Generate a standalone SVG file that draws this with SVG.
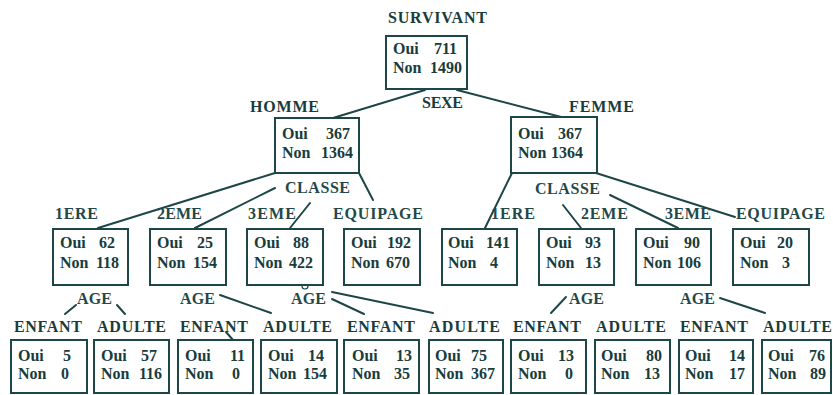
<svg xmlns="http://www.w3.org/2000/svg" width="833" height="395" viewBox="0 0 833 395">
  <style>
    .box { fill: #ffffff; stroke: #1d4646; stroke-width: 2; }
    .edge { stroke: #1d4646; stroke-width: 2; fill: none; stroke-linecap: round; }
    .val { font-family: "Liberation Serif", "Times New Roman", serif; font-size: 16px; font-weight: bold; fill: #183c3c; }
    .num { text-anchor: end; }
    .lbl { font-family: "Liberation Serif", "Times New Roman", serif; font-size: 16px; font-weight: bold; fill: #183c3c; }
    .lbl-n { font-family: "Liberation Serif", "Times New Roman", serif; font-size: 16px; font-weight: bold; fill: #234848; }
  </style>
  <rect width="833" height="395" fill="#ffffff"/>

  <!-- connectors -->
  <g id="connectors">
    <line class="edge" x1="425" y1="90" x2="333" y2="118"/>
    <line class="edge" x1="457" y1="90" x2="565" y2="118"/>
    <line class="edge" x1="275" y1="173" x2="98" y2="228"/>
    <line class="edge" x1="275" y1="188" x2="195" y2="228"/>
    <line class="edge" x1="310" y1="203" x2="290" y2="228"/>
    <line class="edge" x1="359" y1="173" x2="373" y2="200"/>
    <line class="edge" x1="512" y1="173" x2="485" y2="228"/>
    <line class="edge" x1="563" y1="205" x2="581" y2="228"/>
    <line class="edge" x1="610" y1="195" x2="678" y2="228"/>
    <line class="edge" x1="596" y1="173" x2="735" y2="217"/>
    <line class="edge" x1="76" y1="305" x2="65" y2="314"/>
    <line class="edge" x1="117" y1="305" x2="125" y2="314"/>
    <line class="edge" x1="220" y1="295" x2="271" y2="313"/>
    <line class="edge" x1="226" y1="332" x2="233" y2="340"/>
    <line class="edge" x1="332" y1="292" x2="433" y2="313"/>
    <line class="edge" x1="332" y1="299" x2="364" y2="314"/>
    <line class="edge" x1="566" y1="297" x2="551" y2="313"/>
    <line class="edge" x1="720" y1="298" x2="765" y2="313"/>
    <circle cx="305" cy="286" r="3" fill="#ffffff" stroke="#1d4646" stroke-width="1.2"/>
  </g>

  <!-- branch labels -->
  <g id="labels">
    <text class="lbl" x="388" y="23" textLength="99">SURVIVANT</text>
    <text class="lbl" x="250" y="112" textLength="69">HOMME</text>
    <text class="lbl" x="422" y="108" textLength="41">SEXE</text>
    <text class="lbl" x="569" y="112" textLength="65">FEMME</text>
    <text class="lbl-n" x="285" y="193" textLength="65">CLASSE</text>
    <text class="lbl-n" x="535" y="194" textLength="65">CLASSE</text>
    <text class="lbl-n" x="55" y="219" textLength="43">1ERE</text>
    <text class="lbl-n" x="157" y="219" textLength="45">2EME</text>
    <text class="lbl-n" x="248" y="219" textLength="48">3EME</text>
    <text class="lbl-n" x="333" y="219" textLength="90">EQUIPAGE</text>
    <text class="lbl-n" x="491" y="219" textLength="44">1ERE</text>
    <text class="lbl-n" x="581" y="219" textLength="47">2EME</text>
    <text class="lbl-n" x="665" y="219" textLength="46">3EME</text>
    <text class="lbl-n" x="736" y="219" textLength="89">EQUIPAGE</text>
    <text class="lbl-n" x="77" y="304" textLength="35">AGE</text>
    <text class="lbl-n" x="180" y="304" textLength="35">AGE</text>
    <text class="lbl-n" x="291" y="304" textLength="35">AGE</text>
    <text class="lbl-n" x="569" y="304" textLength="35">AGE</text>
    <text class="lbl-n" x="680" y="304" textLength="35">AGE</text>
    <text class="lbl" x="14" y="332" textLength="68">ENFANT</text>
    <text class="lbl" x="97" y="332" textLength="69">ADULTE</text>
    <text class="lbl" x="180" y="332" textLength="68">ENFANT</text>
    <text class="lbl" x="263" y="332" textLength="69">ADULTE</text>
    <text class="lbl" x="347" y="332" textLength="68">ENFANT</text>
    <text class="lbl" x="429" y="332" textLength="71">ADULTE</text>
    <text class="lbl" x="513" y="332" textLength="68">ENFANT</text>
    <text class="lbl" x="596" y="332" textLength="70">ADULTE</text>
    <text class="lbl" x="680" y="332" textLength="68">ENFANT</text>
    <text class="lbl" x="763" y="332" textLength="69">ADULTE</text>
  </g>

  <!-- root -->
  <g id="n-root">
    <rect class="box" x="386" y="36" width="81" height="53"/>
    <text class="val" x="393" y="54">Oui</text><text class="val num" x="457" y="54">711</text>
    <text class="val" x="393" y="73">Non</text><text class="val num" x="462" y="73">1490</text>
  </g>

  <!-- sex -->
  <g id="n-homme">
    <rect class="box" x="275" y="118" width="84" height="55"/>
    <text class="val" x="282" y="139">Oui</text><text class="val num" x="350" y="139">367</text>
    <text class="val" x="282" y="158">Non</text><text class="val num" x="353" y="158">1364</text>
  </g>
  <g id="n-femme">
    <rect class="box" x="511" y="117" width="86" height="56"/>
    <text class="val" x="518" y="139">Oui</text><text class="val num" x="582" y="139">367</text>
    <text class="val" x="518" y="158">Non</text><text class="val num" x="583" y="158">1364</text>
  </g>

  <!-- class -->
  <g id="n-h-1ere">
    <rect class="box" x="53" y="229" width="75" height="56"/>
    <text class="val" x="60" y="248">Oui</text><text class="val num" x="115" y="248">62</text>
    <text class="val" x="60" y="268">Non</text><text class="val num" x="119" y="268">118</text>
  </g>
  <g id="n-h-2eme">
    <rect class="box" x="150" y="229" width="76" height="56"/>
    <text class="val" x="157" y="248">Oui</text><text class="val num" x="213" y="248">25</text>
    <text class="val" x="157" y="268">Non</text><text class="val num" x="217" y="268">154</text>
  </g>
  <g id="n-h-3eme">
    <rect class="box" x="247" y="229" width="76" height="56"/>
    <text class="val" x="254" y="248">Oui</text><text class="val num" x="309" y="248">88</text>
    <text class="val" x="254" y="268">Non</text><text class="val num" x="313" y="268">422</text>
  </g>
  <g id="n-h-equipage">
    <rect class="box" x="344" y="229" width="76" height="56"/>
    <text class="val" x="351" y="248">Oui</text><text class="val num" x="411" y="248">192</text>
    <text class="val" x="351" y="268">Non</text><text class="val num" x="410" y="268">670</text>
  </g>
  <g id="n-f-1ere">
    <rect class="box" x="442" y="229" width="75" height="56"/>
    <text class="val" x="448" y="248">Oui</text><text class="val num" x="510" y="248">141</text>
    <text class="val" x="448" y="268">Non</text><text class="val num" x="498" y="268">4</text>
  </g>
  <g id="n-f-2eme">
    <rect class="box" x="539" y="229" width="75" height="56"/>
    <text class="val" x="546" y="248">Oui</text><text class="val num" x="601" y="248">93</text>
    <text class="val" x="546" y="268">Non</text><text class="val num" x="601" y="268">13</text>
  </g>
  <g id="n-f-3eme">
    <rect class="box" x="636" y="229" width="75" height="56"/>
    <text class="val" x="643" y="248">Oui</text><text class="val num" x="700" y="248">90</text>
    <text class="val" x="643" y="268">Non</text><text class="val num" x="701" y="268">106</text>
  </g>
  <g id="n-f-equipage">
    <rect class="box" x="733" y="229" width="76" height="56"/>
    <text class="val" x="740" y="248">Oui</text><text class="val num" x="793" y="248">20</text>
    <text class="val" x="740" y="268">Non</text><text class="val num" x="790" y="268">3</text>
  </g>

  <!-- age -->
  <g id="n-h1-enfant">
    <rect class="box" x="11" y="340" width="76" height="53"/>
    <text class="val" x="18" y="361">Oui</text><text class="val num" x="71" y="361">5</text>
    <text class="val" x="18" y="379">Non</text><text class="val num" x="69" y="379">0</text>
  </g>
  <g id="n-h1-adulte">
    <rect class="box" x="94" y="340" width="75" height="53"/>
    <text class="val" x="101" y="361">Oui</text><text class="val num" x="157" y="361">57</text>
    <text class="val" x="101" y="379">Non</text><text class="val num" x="162" y="379">116</text>
  </g>
  <g id="n-h2-enfant">
    <rect class="box" x="178" y="340" width="75" height="53"/>
    <text class="val" x="185" y="361">Oui</text><text class="val num" x="245" y="361">11</text>
    <text class="val" x="185" y="379">Non</text><text class="val num" x="240" y="379">0</text>
  </g>
  <g id="n-h2-adulte">
    <rect class="box" x="261" y="340" width="76" height="53"/>
    <text class="val" x="268" y="361">Oui</text><text class="val num" x="324" y="361">14</text>
    <text class="val" x="268" y="379">Non</text><text class="val num" x="327" y="379">154</text>
  </g>
  <g id="n-h3-enfant">
    <rect class="box" x="344" y="340" width="75" height="53"/>
    <text class="val" x="352" y="361">Oui</text><text class="val num" x="412" y="361">13</text>
    <text class="val" x="352" y="379">Non</text><text class="val num" x="410" y="379">35</text>
  </g>
  <g id="n-h3-adulte">
    <rect class="box" x="429" y="340" width="74" height="53"/>
    <text class="val" x="435" y="361">Oui</text><text class="val num" x="487" y="361">75</text>
    <text class="val" x="435" y="379">Non</text><text class="val num" x="495" y="379">367</text>
  </g>
  <g id="n-f2-enfant">
    <rect class="box" x="511" y="340" width="75" height="53"/>
    <text class="val" x="518" y="361">Oui</text><text class="val num" x="574" y="361">13</text>
    <text class="val" x="518" y="379">Non</text><text class="val num" x="573" y="379">0</text>
  </g>
  <g id="n-f2-adulte">
    <rect class="box" x="595" y="340" width="75" height="53"/>
    <text class="val" x="601" y="361">Oui</text><text class="val num" x="662" y="361">80</text>
    <text class="val" x="601" y="379">Non</text><text class="val num" x="660" y="379">13</text>
  </g>
  <g id="n-f3-enfant">
    <rect class="box" x="679" y="340" width="74" height="53"/>
    <text class="val" x="685" y="361">Oui</text><text class="val num" x="745" y="361">14</text>
    <text class="val" x="685" y="379">Non</text><text class="val num" x="745" y="379">17</text>
  </g>
  <g id="n-f3-adulte">
    <rect class="box" x="762" y="340" width="69" height="53"/>
    <text class="val" x="768" y="361">Oui</text><text class="val num" x="825" y="361">76</text>
    <text class="val" x="768" y="379">Non</text><text class="val num" x="826" y="379">89</text>
  </g>
</svg>
